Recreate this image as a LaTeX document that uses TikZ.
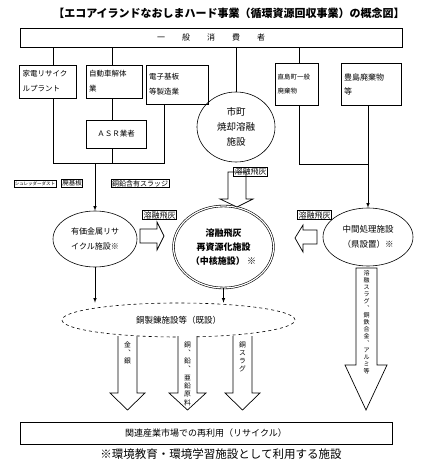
\documentclass[tikz,border=0pt]{standalone}
\usepackage{fontspec}
\setmainfont{Noto Sans CJK JP}
\usetikzlibrary{shapes.geometric}

\begin{document}
\begin{tikzpicture}[x=1pt,y=-1pt,>=latex,line width=0.6pt,
	box/.style={draw,inner sep=2pt,align=left,font=\fontsize{7.5}{15}\selectfont},
	panel/.style={draw,inner sep=2pt,font=\fontsize{8.5}{10}\selectfont},
	ell/.style={draw,ellipse,inner sep=0pt,align=center,font=\fontsize{8.5}{15}\selectfont},
	tag/.style={draw,inner sep=0.8pt,font=\fontsize{8}{9}\selectfont},
	tate/.style={anchor=north,inner sep=0pt,align=center,font=\fontsize{6.8}{8.3}\selectfont},
	blockarrow/.style={draw,fill=white,line width=0.7pt}]
	\useasboundingbox (0,0) rectangle (420,468);
	
	\node[font=\fontsize{11}{12}\selectfont\bfseries] (title) at (229,13) {【エコアイランドなおしまハード事業（循環資源回収事業）の概念図】};
	\node[panel,minimum width=382,minimum height=19,font=\fontsize{8}{9}\selectfont] (consumer) at (211,37.5) {一\hspace{17pt}般\hspace{17pt}消\hspace{17pt}費\hspace{17pt}者};
	
	% sources
	\node[box,minimum width=57,minimum height=33,text width=50] (kaden) at (47.5,81.5) {家電リサイク\\ルプラント};
	\node[box,minimum width=56,minimum height=33,text width=50] (jidosha) at (114,81.5) {自動車解体\\業};
	\node[box,minimum width=62,minimum height=39,text width=56] (denshi) at (177,84.5) {電子基板\\等製造業};
	\node[panel,minimum width=60,minimum height=28,font=\fontsize{7.5}{9}\selectfont] (asr) at (116,134) {ＡＳＲ業者};
	\node[box,minimum width=43,minimum height=42,text width=38,font=\fontsize{6.5}{14}\selectfont] (naoshima) at (296.5,84) {直島町一般\\廃棄物};
	\node[box,minimum width=60,minimum height=42,text width=54,font=\fontsize{8}{14}\selectfont] (toshima) at (371,84) {豊島廃棄物\\等};
	\node[ell,minimum width=78,minimum height=70,font=\fontsize{9.5}{15}\selectfont] (shicho) at (236,127) {市町\\焼却溶融\\施設};
	
	% facilities
	\node[ell,minimum width=84,minimum height=56,font=\fontsize{8}{15}\selectfont] (yuka) at (95,239) {有価金属リサ\\イクル施設※};
	\node[ell,double,double distance=1.2pt,minimum width=100,minimum height=82,font=\fontsize{9}{14}\selectfont\bfseries] (core) at (223.5,247) {溶融飛灰\\再資源化施設\\（中核施設）\ ※};
	\node[ell,minimum width=90,minimum height=58] (chukan) at (368,237) {中間処理施設\\（県設置）※};
	\node[ell,dashed,minimum width=233,minimum height=34,font=\fontsize{8.5}{10}\selectfont] (copper) at (178.5,320) {銅製錬施設等（既設）};
	
	\node[panel,minimum width=372,minimum height=22,font=\fontsize{9}{10}\selectfont] (market) at (206,433) {関連産業市場での再利用（リサイクル）};
	\node[font=\fontsize{11.5}{12}\selectfont] (note) at (221,454) {※環境教育・環境学習施設として利用する施設};
	
	% collecting lines
	\coordinate (bendL) at (53,163);
	\coordinate (bendM) at (112,163);
	\coordinate (bendR) at (164,163);
	\coordinate (dropL) at (95,163);
	\coordinate (bendN) at (299,164);
	\coordinate (bendT) at (368,164);
	
	\draw (consumer.south -| bendL) -- (kaden.north -| bendL);
	\draw (consumer.south -| bendM) -- (jidosha.north -| bendM);
	\draw (consumer.south -| shicho) -- (shicho.north);
	\draw (consumer.south -| bendN) -- (naoshima.north -| bendN);
	\draw (kaden.south -| bendL) -- (bendL) -- (bendR) -- (denshi.south -| bendR);
	\draw (jidosha.south -| bendM) -- (asr.north -| bendM);
	\draw (asr.south -| bendM) -- (bendM);
	\draw [->] (dropL) -- (yuka.north);
	\draw (naoshima.south -| bendN) -- (bendN) -- (bendT) -- (toshima.south -| bendT);
	\draw [->] (bendT) -- (chukan.north);
	\draw [->] (yuka.south) -- (yuka.south |- copper.north);
	\draw [->] (core.south) -- (core.south |- copper.north);
	
	% input labels
	\node[tag,font=\fontsize{4.5}{5}\selectfont,minimum height=7] (shred) at (35,183.5) {シュレッダーダスト};
	\node[tag,font=\fontsize{6.5}{7}\selectfont] (board) at (72,183.5) {廃基板};
	\node[tag,font=\fontsize{7}{8}\selectfont] (sludge) at (140,183.5) {銅鉛含有スラッジ};
	
	% fly ash block arrows
	\draw [blockarrow] (228,172) -- (228,199) -- (220,199) -- (237,207) -- (253,199) -- (246,199) -- (246,172) -- cycle;
	\draw [blockarrow] (140,229) -- (157,229) -- (157,222) -- (164,236) -- (157,250) -- (157,243) -- (140,243) -- cycle;
	\draw [blockarrow] (317,230) -- (303,230) -- (303,225) -- (295,238) -- (303,252) -- (303,244) -- (317,244) -- cycle;
	\node[tag] (ashTop) at (250.5,171.5) {溶融飛灰};
	\node[tag] (ashL) at (159.5,215) {溶融飛灰};
	\node[tag] (ashR) at (314.5,215) {溶融飛灰};
	
	% products
	\draw [blockarrow] (118,336) -- (118,393) -- (110,393) -- (127.5,410) -- (145,393) -- (137,393) -- (137,336);
	\draw [blockarrow] (178,336) -- (178,393) -- (169,393) -- (187.5,410) -- (206,393) -- (197,393) -- (197,336);
	\draw [blockarrow] (233,336) -- (233,393) -- (225,393) -- (242.5,410) -- (260,393) -- (252,393) -- (252,336);
	\draw [blockarrow] (356,268) -- (356,365) -- (345,365) -- (366,410) -- (387,365) -- (377,365) -- (377,268) -- cycle;
	\node[tate] (gold) at (127.5,341) {金\\︑\\銀};
	\node[tate] (lead) at (187.5,341) {銅\\︑\\鉛\\︑\\亜\\鉛\\原\\料};
	\node[tate] (slag) at (242.5,341) {銅\\ス\\ラ\\グ};
	\node[tate,font=\fontsize{6}{7}\selectfont] (alloy) at (366.5,270) {溶\\融\\ス\\ラ\\グ\\︑\\銅\\鉄\\合\\金\\︑\\ア\\ル\\ミ\\等};
\end{tikzpicture}
\end{document}
